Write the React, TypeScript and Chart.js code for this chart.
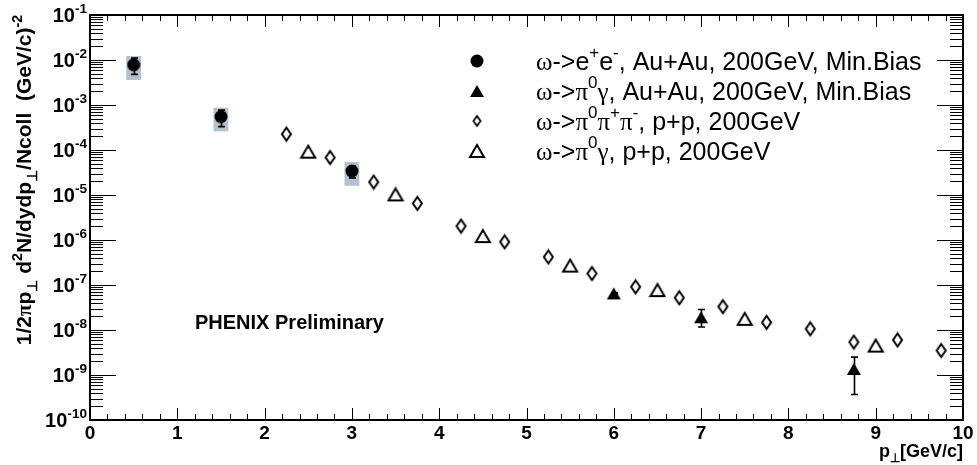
import React, { useEffect, useRef } from 'react';
import { Chart, registerables } from 'chart.js';
Chart.register(...registerables);

// ---------- data ----------
const eeX = [0.5, 1.5, 3.0];
const eeY = [7.8e-3, 5.5e-4, 3.4e-5];
const eeErrLo = [4.8e-3, 3.3e-4, 2.4e-5];
const eeErrHi = [1.1e-2, 7.7e-4, 4.4e-5];
const eeSysLo = [3.6e-3, 2.6e-4, 1.6e-5];
const eeSysHi = [1.23e-2, 8.7e-4, 5.4e-5];
const eeSysHalfWidth = 0.085;

const pgAuX = [6.0, 7.0, 8.75];
const pgAuY = [6.5e-8, 1.92e-8, 1.36e-9];
const pgAuErrLo = [6.3e-8, 1.17e-8, 3.7e-10];
const pgAuErrHi = [6.7e-8, 2.85e-8, 2.5e-9];

const p3X = [2.25, 2.75, 3.25, 3.75, 4.25, 4.75, 5.25, 5.75, 6.25, 6.75, 7.25, 7.75, 8.25, 8.75, 9.25, 9.75];
const p3Y = [2.26e-4, 6.8e-5, 1.94e-5, 6.5e-6, 2.04e-6, 9.1e-7, 4.2e-7, 1.8e-7, 9.1e-8, 5.2e-8, 3.3e-8, 1.48e-8, 1.06e-8, 5.4e-9, 6.0e-9, 3.5e-9];

const pgPPX = [2.5, 3.5, 4.5, 5.5, 6.5, 7.5, 9.0];
const pgPPY = [9.2e-5, 1.03e-5, 1.22e-6, 2.7e-7, 7.7e-8, 1.77e-8, 4.5e-9];

const xTickValues = [0, 1, 2, 3, 4, 5, 6, 7, 8, 9, 10];
const xTickLabels = ['0', '1', '2', '3', '4', '5', '6', '7', '8', '9', '10'];
const yTickExponents = [-1, -2, -3, -4, -5, -6, -7, -8, -9, -10];

type Seg = { t: string; sup?: boolean; sub?: boolean; greek?: boolean };

const legendEntries: { marker: string; segs: Seg[] }[] = [
  { marker: 'circle', segs: [{ t: 'ω', greek: true }, { t: '->e' }, { t: '+', sup: true }, { t: 'e' }, { t: '-', sup: true }, { t: ', Au+Au, 200GeV, Min.Bias' }] },
  { marker: 'ftri', segs: [{ t: 'ω', greek: true }, { t: '->' }, { t: 'π', greek: true }, { t: '0', sup: true }, { t: 'γ', greek: true }, { t: ', Au+Au, 200GeV, Min.Bias' }] },
  { marker: 'diamondS', segs: [{ t: 'ω', greek: true }, { t: '->' }, { t: 'π', greek: true }, { t: '0', sup: true }, { t: 'π', greek: true }, { t: '+', sup: true }, { t: 'π', greek: true }, { t: '-', sup: true }, { t: ', p+p, 200GeV' }] },
  { marker: 'otri', segs: [{ t: 'ω', greek: true }, { t: '->' }, { t: 'π', greek: true }, { t: '0', sup: true }, { t: 'γ', greek: true }, { t: ', p+p, 200GeV' }] },
];

const SANS = '"Liberation Sans", Arial, Helvetica, sans-serif';
const SERIF = '"Liberation Serif", "Times New Roman", serif';

function makeMarker(kind: string): HTMLCanvasElement {
  const c = document.createElement('canvas');
  const ctx = c.getContext('2d')!;
  if (kind === 'circle') {
    c.width = 14; c.height = 14;
    ctx.fillStyle = '#000';
    ctx.beginPath(); ctx.arc(7, 7, 6.5, 0, Math.PI * 2); ctx.fill();
  } else if (kind === 'ftri') {
    c.width = 16; c.height = 14;
    ctx.fillStyle = '#000';
    ctx.beginPath(); ctx.moveTo(8, 1); ctx.lineTo(15, 13); ctx.lineTo(1, 13); ctx.closePath(); ctx.fill();
  } else if (kind === 'otri') {
    c.width = 18; c.height = 16;
    ctx.strokeStyle = '#000'; ctx.lineWidth = 2; ctx.lineJoin = 'miter';
    ctx.beginPath(); ctx.moveTo(9, 2); ctx.lineTo(16, 14); ctx.lineTo(2, 14); ctx.closePath(); ctx.stroke();
  } else if (kind === 'diamond') {
    c.width = 13; c.height = 17;
    ctx.strokeStyle = '#000'; ctx.lineWidth = 2;
    ctx.beginPath(); ctx.moveTo(6.5, 2); ctx.lineTo(11, 8.5); ctx.lineTo(6.5, 15); ctx.lineTo(2, 8.5); ctx.closePath(); ctx.stroke();
  } else if (kind === 'diamondS') {
    c.width = 11; c.height = 14;
    ctx.strokeStyle = '#000'; ctx.lineWidth = 1.8;
    ctx.beginPath(); ctx.moveTo(5.5, 2); ctx.lineTo(9, 7); ctx.lineTo(5.5, 12); ctx.lineTo(2, 7); ctx.closePath(); ctx.stroke();
  }
  return c;
}

function segFont(s: Seg, size: number, bold: boolean) {
  const sz = s.sup || s.sub ? size * 0.68 : size;
  return `${bold ? 'bold ' : ''}${sz}px ${s.greek ? SERIF : SANS}`;
}

function drawRich(ctx: CanvasRenderingContext2D, segs: Seg[], x: number, y: number, size: number, bold: boolean, align: 'left' | 'center' | 'right') {
  ctx.save();
  ctx.textBaseline = 'alphabetic';
  ctx.textAlign = 'left';
  let total = 0;
  const widths = segs.map((s) => {
    ctx.font = segFont(s, size, bold);
    const w = ctx.measureText(s.t).width;
    total += w;
    return w;
  });
  let cx = align === 'left' ? x : align === 'center' ? x - total / 2 : x - total;
  segs.forEach((s, i) => {
    ctx.font = segFont(s, size, bold);
    const dy = s.sup ? -size * 0.45 : s.sub ? size * 0.3 : 0;
    ctx.fillText(s.t, cx, y + dy);
    cx += widths[i];
  });
  ctx.restore();
}

export default function App() {
  const ref = useRef<HTMLCanvasElement | null>(null);
  useEffect(() => {
    document.body.style.margin = '0';
    const canvas = ref.current!;
    const markers: Record<string, HTMLCanvasElement> = {
      circle: makeMarker('circle'),
      ftri: makeMarker('ftri'),
      otri: makeMarker('otri'),
      diamond: makeMarker('diamond'),
      diamondS: makeMarker('diamondS'),
    };

    const decorPlugin = {
      id: 'decor',
      beforeDatasetsDraw(chart: any) {
        const ctx: CanvasRenderingContext2D = chart.ctx;
        const xs = chart.scales.x, ys = chart.scales.y;
        ctx.save();
        // systematic boxes
        ctx.fillStyle = '#b3c2ce';
        eeX.forEach((x, i) => {
          const x0 = xs.getPixelForValue(x - eeSysHalfWidth);
          const x1 = xs.getPixelForValue(x + eeSysHalfWidth);
          const y0 = ys.getPixelForValue(eeSysHi[i]);
          const y1 = ys.getPixelForValue(eeSysLo[i]);
          ctx.fillRect(x0, y0, x1 - x0, y1 - y0);
        });
        // error bars
        ctx.strokeStyle = '#000';
        ctx.lineWidth = 1.6;
        const bar = (x: number, lo: number, hi: number) => {
          const px = Math.round(xs.getPixelForValue(x)) + 0.5;
          const y0 = ys.getPixelForValue(hi);
          const y1 = ys.getPixelForValue(lo);
          ctx.beginPath();
          ctx.moveTo(px, y0); ctx.lineTo(px, y1);
          ctx.moveTo(px - 3.5, y0); ctx.lineTo(px + 3.5, y0);
          ctx.moveTo(px - 3.5, y1); ctx.lineTo(px + 3.5, y1);
          ctx.stroke();
        };
        eeX.forEach((x, i) => bar(x, eeErrLo[i], eeErrHi[i]));
        pgAuX.forEach((x, i) => bar(x, pgAuErrLo[i], pgAuErrHi[i]));
        ctx.restore();
      },
      afterDraw(chart: any) {
        const ctx: CanvasRenderingContext2D = chart.ctx;
        const xs = chart.scales.x, ys = chart.scales.y;
        const { left, right, top, bottom } = chart.chartArea;
        ctx.save();
        ctx.strokeStyle = '#000';
        ctx.fillStyle = '#000';
        // ticks x
        ctx.lineWidth = 1;
        ctx.beginPath();
        for (let k = 0; k <= 50; k++) {
          const v = xs.min + (k * (xs.max - xs.min)) / 50;
          const px = Math.round(xs.getPixelForValue(v)) + 0.5;
          const major = k % 5 === 0;
          const len = major ? 12 : 6;
          ctx.moveTo(px, bottom); ctx.lineTo(px, bottom - len);
          ctx.moveTo(px, top); ctx.lineTo(px, top + len);
        }
        // ticks y (log)
        for (let e = -10; e <= -2; e++) {
          for (let m = 1; m <= 9; m++) {
            const v = m * Math.pow(10, e);
            const py = Math.round(ys.getPixelForValue(v)) + 0.5;
            const len = m === 1 ? 26 : 13;
            ctx.moveTo(left, py); ctx.lineTo(left + len, py);
            ctx.moveTo(right, py); ctx.lineTo(right - len, py);
          }
        }
        ctx.stroke();
        // frame
        ctx.lineWidth = 2;
        ctx.strokeRect(left, top, right - left, bottom - top);

        // x tick labels
        ctx.font = `bold 19px ${SANS}`;
        ctx.textAlign = 'center';
        ctx.textBaseline = 'alphabetic';
        xTickValues.forEach((v, i) => {
          ctx.fillText(xTickLabels[i], xs.getPixelForValue(v), bottom + 19);
        });
        // y tick labels
        yTickExponents.forEach((e) => {
          const py = ys.getPixelForValue(Math.pow(10, e));
          drawRich(ctx, [{ t: '10' }, { t: String(e), sup: true }], left - 3, py + 7, 20, true, 'right');
        });

        // x title
        drawRich(ctx, [{ t: 'p' }, { t: '⊥', sub: true }, { t: '[GeV/c]' }], right, 457, 18, true, 'right');

        // y title
        ctx.save();
        ctx.translate(31, 180);
        ctx.rotate(-Math.PI / 2);
        drawRich(ctx, [
          { t: '1/2' }, { t: 'π', greek: true }, { t: 'p' }, { t: '⊥', sub: true }, { t: ' d' }, { t: '2', sup: true },
          { t: 'N/dydp' }, { t: '⊥', sub: true }, { t: '/Ncoll  (GeV/c)' }, { t: '-2', sup: true },
        ], 0, 0, 21, true, 'center');
        ctx.restore();

        // PHENIX label
        ctx.font = `bold 20px ${SANS}`;
        ctx.textAlign = 'left';
        ctx.fillText('PHENIX Preliminary', 195, 329);

        // legend
        const rows = [61, 91, 121, 151];
        legendEntries.forEach((en, i) => {
          const m = markers[en.marker];
          ctx.drawImage(m, 477 - m.width / 2, rows[i] - m.height / 2);
          drawRich(ctx, en.segs, 536, rows[i] + 8.5, 25, false, 'left');
        });
        ctx.restore();
      },
    };

    const mk = (xsArr: number[], ysArr: number[]) => xsArr.map((x, i) => ({ x, y: ysArr[i] }));
    const chart = new Chart(canvas, {
      type: 'scatter',
      data: {
        datasets: [
          { label: 'p3', data: mk(p3X, p3Y), pointStyle: markers.diamond as any, showLine: false },
          { label: 'pgPP', data: mk(pgPPX, pgPPY), pointStyle: markers.otri as any, showLine: false },
          { label: 'pgAu', data: mk(pgAuX, pgAuY), pointStyle: markers.ftri as any, showLine: false },
          { label: 'ee', data: mk(eeX, eeY), pointStyle: markers.circle as any, showLine: false },
        ],
      },
      options: {
        animation: false,
        responsive: false,
        devicePixelRatio: 1,
        layout: { padding: { left: 90, top: 15, right: 14, bottom: 45 } },
        plugins: { legend: { display: false }, tooltip: { enabled: false } },
        scales: {
          x: { type: 'linear', min: 0, max: 10, display: false },
          y: { type: 'logarithmic', min: 1e-10, max: 1e-1, display: false },
        },
      },
      plugins: [decorPlugin],
    });
    return () => chart.destroy();
  }, []);
  return (
    <div style={{ width: 977, height: 465, background: '#fff' }}>
      <canvas ref={ref} width={977} height={465} style={{ display: 'block' }} />
    </div>
  );
}
